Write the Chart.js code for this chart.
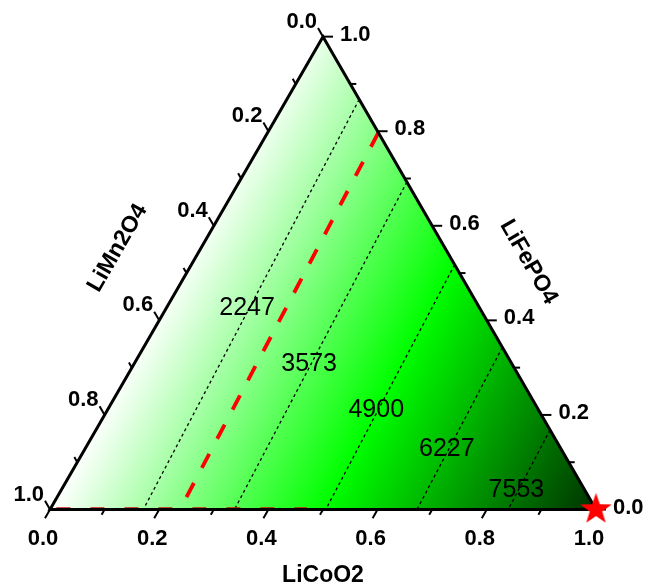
<!DOCTYPE html>
<html>
<head>
<meta charset="utf-8">
<script src="https://cdn.jsdelivr.net/npm/chart.js@4.4.1/dist/chart.umd.min.js"></script>
<style>
  html, body { margin: 0; padding: 0; background: #fff; }
  #wrap { width: 648px; height: 587px; }
</style>
</head>
<body>
<div id="wrap"><canvas id="ternary" width="648" height="587"></canvas></div>
<script>
// property value at each pure corner: LiCoO2, LiFePO4, LiMn2O4
const cornerNames = ["LiCoO2", "LiFePO4", "LiMn2O4"];
const cornerValues = [8830, 1240, 890];

// dotted iso-lines and where (LiFePO4 fraction) their labels sit
const contourLevels = [2247, 3573, 4900, 6227, 7553];
const contourLabelAt = [0.425, 0.308, 0.211, 0.128, 0.041];

// red dashed iso-line, plus the dashed run along the LiCoO2 axis
const markLevel = 2780;
const markBaseRun = [0, 0.47];

// star on the LiCoO2 corner (LiCoO2, LiFePO4)
const starPoint = [1, 0];

const majorTicks = [0, 0.2, 0.4, 0.6, 0.8, 1.0];
const minorTicks = [0.1, 0.3, 0.5, 0.7, 0.9];

const S = Math.sqrt(3) / 2;
const FONT = '"Liberation Sans", Arial, sans-serif';

// ternary (a = LiCoO2, b = LiFePO4) -> cartesian data coords
function toXY(a, b) {
    return { x: a + b / 2, y: b * S };
}

function fieldValue(a, b) {
    const c = 1 - a - b;
    return cornerValues[0] * a + cornerValues[1] * b + cornerValues[2] * c;
}

// where a level crosses the triangle edges
function levelLine(v) {
    const corners = [[1, 0], [0, 1], [0, 0]];
    const pts = [];
    for (let i = 0; i < 3; i++) {
        const j = (i + 1) % 3;
        const vi = cornerValues[i], vj = cornerValues[j];
        if (vi !== vj && (v - vi) * (v - vj) <= 0) {
            const t = (v - vi) / (vj - vi);
            pts.push(toXY(
                corners[i][0] + t * (corners[j][0] - corners[i][0]),
                corners[i][1] + t * (corners[j][1] - corners[i][1])
            ));
        }
    }
    return pts;
}

// white -> green -> dark green
function fieldColor(t) {
    if (t < 0.5) {
        const k = t / 0.5;
        return [255 * (1 - k), 255, 255 * (1 - k)];
    }
    const k = (t - 0.5) / 0.5;
    return [0, 255 - 205 * k, 0];
}

function makeStar(r) {
    const c = document.createElement("canvas");
    c.width = c.height = Math.ceil(r * 2 + 2);
    const g = c.getContext("2d");
    const cx = c.width / 2, cy = c.height / 2;
    g.beginPath();
    for (let i = 0; i < 10; i++) {
        const rad = i % 2 === 0 ? r : r * 0.4;
        const ang = -Math.PI / 2 + i * Math.PI / 5;
        g.lineTo(cx + rad * Math.cos(ang), cy + rad * Math.sin(ang));
    }
    g.closePath();
    g.fillStyle = "#ff0000";
    g.fill();
    return c;
}

const fieldPlugin = {
    id: "field",
    beforeDatasetsDraw(chart) {
        const xs = chart.scales.x, ys = chart.scales.y;
        const w = chart.width, h = chart.height;
        const off = document.createElement("canvas");
        off.width = w; off.height = h;
        const octx = off.getContext("2d");
        const img = octx.createImageData(w, h);
        const vMin = Math.min(...cornerValues), vMax = Math.max(...cornerValues);
        for (let py = 0; py < h; py++) {
            const b = ys.getValueForPixel(py + 0.5) / S;
            if (b < 0 || b > 1) continue;
            for (let px = 0; px < w; px++) {
                const a = xs.getValueForPixel(px + 0.5) - b / 2;
                if (a < 0 || a + b > 1) continue;
                const col = fieldColor((fieldValue(a, b) - vMin) / (vMax - vMin));
                const k = (py * w + px) * 4;
                img.data[k] = col[0];
                img.data[k + 1] = col[1];
                img.data[k + 2] = col[2];
                img.data[k + 3] = 255;
            }
        }
        octx.putImageData(img, 0, 0);
        chart.ctx.drawImage(off, 0, 0);

        // ticks and tick labels
        const ctx = chart.ctx;
        const px = p => ({ x: xs.getPixelForValue(p.x), y: ys.getPixelForValue(p.y) });
        ctx.save();
        ctx.strokeStyle = "#000";
        ctx.lineWidth = 2;
        const tick = (base, dx, dy, len) => {
            ctx.beginPath();
            ctx.moveTo(base.x, base.y);
            ctx.lineTo(base.x + dx * len, base.y + dy * len);
            ctx.stroke();
        };
        majorTicks.concat(minorTicks).forEach(v => {
            const len = majorTicks.includes(v) ? 10 : 6;
            tick(px(toXY(v, 0)), -0.5, S, len);       // LiCoO2
            tick(px(toXY(1 - v, v)), 1, 0, len);      // LiFePO4
            tick(px(toXY(0, 1 - v)), -0.5, -S, len);  // LiMn2O4
        });
        ctx.fillStyle = "#000";
        ctx.font = "bold 22px " + FONT;
        ctx.textBaseline = "middle";
        majorTicks.forEach(v => {
            const txt = v.toFixed(1);
            let p = px(toXY(v, 0));
            ctx.textAlign = "center";
            ctx.fillText(txt, p.x - 7, p.y + 29);
            p = px(toXY(1 - v, v));
            ctx.textAlign = "left";
            ctx.fillText(txt, p.x + 17, p.y - 2);
            p = px(toXY(0, 1 - v));
            ctx.textAlign = "right";
            ctx.fillText(txt, p.x - 6, p.y - 15);
        });

        // axis titles
        ctx.font = "bold 23px " + FONT;
        ctx.textAlign = "center";
        let p = px(toXY(0.5, 0));
        ctx.fillText(cornerNames[0], p.x, p.y + 66);
        p = px(toXY(0.5, 0.5));
        ctx.save();
        ctx.translate(p.x + 69, p.y - 11);
        ctx.rotate(Math.PI / 3);
        ctx.fillText(cornerNames[1], 0, 0);
        ctx.restore();
        p = px(toXY(0, 0.5));
        ctx.save();
        ctx.translate(p.x - 69, p.y - 25);
        ctx.rotate(-Math.PI / 3);
        ctx.fillText(cornerNames[2], 0, 0);
        ctx.restore();
        ctx.restore();
    },
    afterDatasetsDraw(chart) {
        const xs = chart.scales.x, ys = chart.scales.y;
        const ctx = chart.ctx;
        ctx.save();
        ctx.fillStyle = "#000";
        ctx.font = "25px " + FONT;
        ctx.textAlign = "center";
        ctx.textBaseline = "middle";
        contourLevels.forEach((v, i) => {
            const b = contourLabelAt[i];
            const a = (v - cornerValues[1] * b - cornerValues[2] * (1 - b)) / (cornerValues[0] - cornerValues[2]);
            const p = toXY(a, b);
            ctx.fillText(String(v), xs.getPixelForValue(p.x) - 2, ys.getPixelForValue(p.y));
        });
        ctx.restore();
    }
};

const frame = [toXY(0, 0), toXY(1, 0), toXY(0, 1), toXY(0, 0), toXY(1, 0)];

const datasets = [
    {
        label: "star",
        data: [toXY(starPoint[0], starPoint[1])],
        pointStyle: makeStar(16.5),
        pointRadius: 10,
        showLine: false
    },
    {
        label: "frame",
        data: frame,
        showLine: true,
        borderColor: "#000",
        borderWidth: 3,
        pointRadius: 0,
        borderCapStyle: "square"
    },
    {
        label: "mark",
        data: levelLine(markLevel),
        showLine: true,
        borderColor: "#ff0000",
        borderWidth: 3.8,
        borderDash: [16, 17],
        pointRadius: 0
    },
    {
        label: "mark base",
        data: markBaseRun.map(a => toXY(a, 0.0015)),
        showLine: true,
        borderColor: "#c81010",
        borderWidth: 3,
        borderDash: [14, 20],
        borderDashOffset: -6,
        pointRadius: 0
    }
];
contourLevels.forEach(v => {
    datasets.push({
        label: String(v),
        data: levelLine(v),
        showLine: true,
        borderColor: "#000",
        borderWidth: 1.3,
        borderDash: [3, 3],
        pointRadius: 0
    });
});

const W = 546;
const ctx = document.getElementById("ternary");
new Chart(ctx, {
    type: "scatter",
    data: { datasets: datasets },
    options: {
        responsive: false,
        animation: false,
        events: [],
        layout: { padding: 0, autoPadding: false },
        plugins: { legend: { display: false }, tooltip: { enabled: false } },
        scales: {
            x: { type: "linear", display: false, min: -50 / W, max: (648 - 50) / W },
            y: { type: "linear", display: false, min: -(587 - 509.5) / W, max: 509.5 / W }
        }
    },
    plugins: [fieldPlugin]
});
</script>
</body>
</html>
